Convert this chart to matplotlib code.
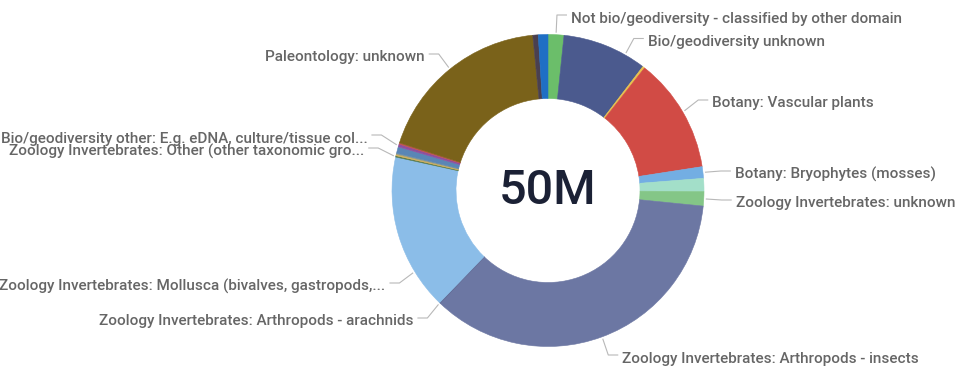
import numpy as np
import matplotlib
matplotlib.use("Agg")
import matplotlib.pyplot as plt

# Specimen counts per collection domain (millions), clockwise from 12 o'clock
categories = [
    "Not bio/geodiversity - classified by other domain",
    "Bio/geodiversity unknown",
    "",
    "Botany: Vascular plants",
    "Botany: Bryophytes (mosses)",
    "",
    "Zoology Invertebrates: unknown",
    "Zoology Invertebrates: Arthropods - insects",
    "Zoology Invertebrates: Arthropods - arachnids",
    "Zoology Invertebrates: Mollusca (bivalves, gastropods,...",
    "Zoology Invertebrates: Other (other taxonomic gro...",
    "",
    "",
    "",
    "Bio/geodiversity other: E.g. eDNA, culture/tissue col...",
    "",
    "Paleontology: unknown",
    "",
    "",
]
values = [0.82, 4.38, 0.11, 5.97, 0.60, 0.68, 0.74, 17.78, 0.04, 8.11,
          0.07, 0.07, 0.06, 0.34, 0.14, 0.07, 9.25, 0.28, 0.50]
colors = ["#6BBE6A", "#4B5A8E", "#E9C34C", "#D14B45", "#73AEE3", "#A3DFC9",
          "#84C687", "#6C77A3", "#5B6590", "#8BBDE8", "#55784A", "#D9B25A",
          "#8F9A88", "#5A86B6", "#8E4F9E", "#C0504D", "#7A621A", "#4A4050",
          "#1F6FC4"]

# Label layout: leader-line height (px from top) and where on the slice the line attaches
label_line_y = {0: 15, 1: 38.5, 3: 100, 4: 171, 6: 200, 7: 355, 8: 318,
                9: 283, 10: 148, 14: 135, 16: 54}
anchor_frac = {1: 0.75, 9: 0.25}

W, H = 956, 367
fig = plt.figure(figsize=(W / 100, H / 100), dpi=100)
ax = fig.add_axes([0, 0, 1, 1])

cx, cy = 548, H - 190.5
R_out, R_in = 156, 92

wedges, _ = ax.pie(values, colors=colors, startangle=90, counterclock=False,
                   radius=R_out, center=(cx, cy),
                   wedgeprops=dict(width=R_out - R_in, linewidth=0.4))
for w, c in zip(wedges, colors):
    w.set_edgecolor(c)

ax.set_xlim(0, W)
ax.set_ylim(0, H)
ax.set_aspect("equal")
ax.axis("off")

label_font = dict(family=["Roboto", "DejaVu Sans"], size=11, weight="medium",
                  color="#666666")
line_kw = dict(color="#B8B8B8", lw=0.8, solid_capstyle="butt")

for i, (w, lab) in enumerate(zip(wedges, categories)):
    if not lab:
        continue
    f = anchor_frac.get(i, 0.5)
    ang = np.deg2rad(w.theta2 - f * (w.theta2 - w.theta1))
    ux, uy = np.cos(ang), np.sin(ang)
    sx, sy = cx + (R_out + 2) * ux, cy + (R_out + 2) * uy
    ex = cx + 174 * ux
    ey = H - label_line_y[i]
    side = 1 if ux >= 0 else -1
    hx = ex + side * 10
    ax.plot([sx, ex, hx], [sy, ey, ey], **line_kw)
    ax.text(hx + side * 4, ey - 7.5, lab, ha="left" if side > 0 else "right",
            va="baseline", **label_font)

total = sum(values)
ax.text(cx, cy - 1, f"{total:.0f}M", ha="center", va="center",
        family=["Roboto", "DejaVu Sans"], size=35, weight="medium",
        color="#1B2135")

fig.savefig("out.png", dpi=100)
